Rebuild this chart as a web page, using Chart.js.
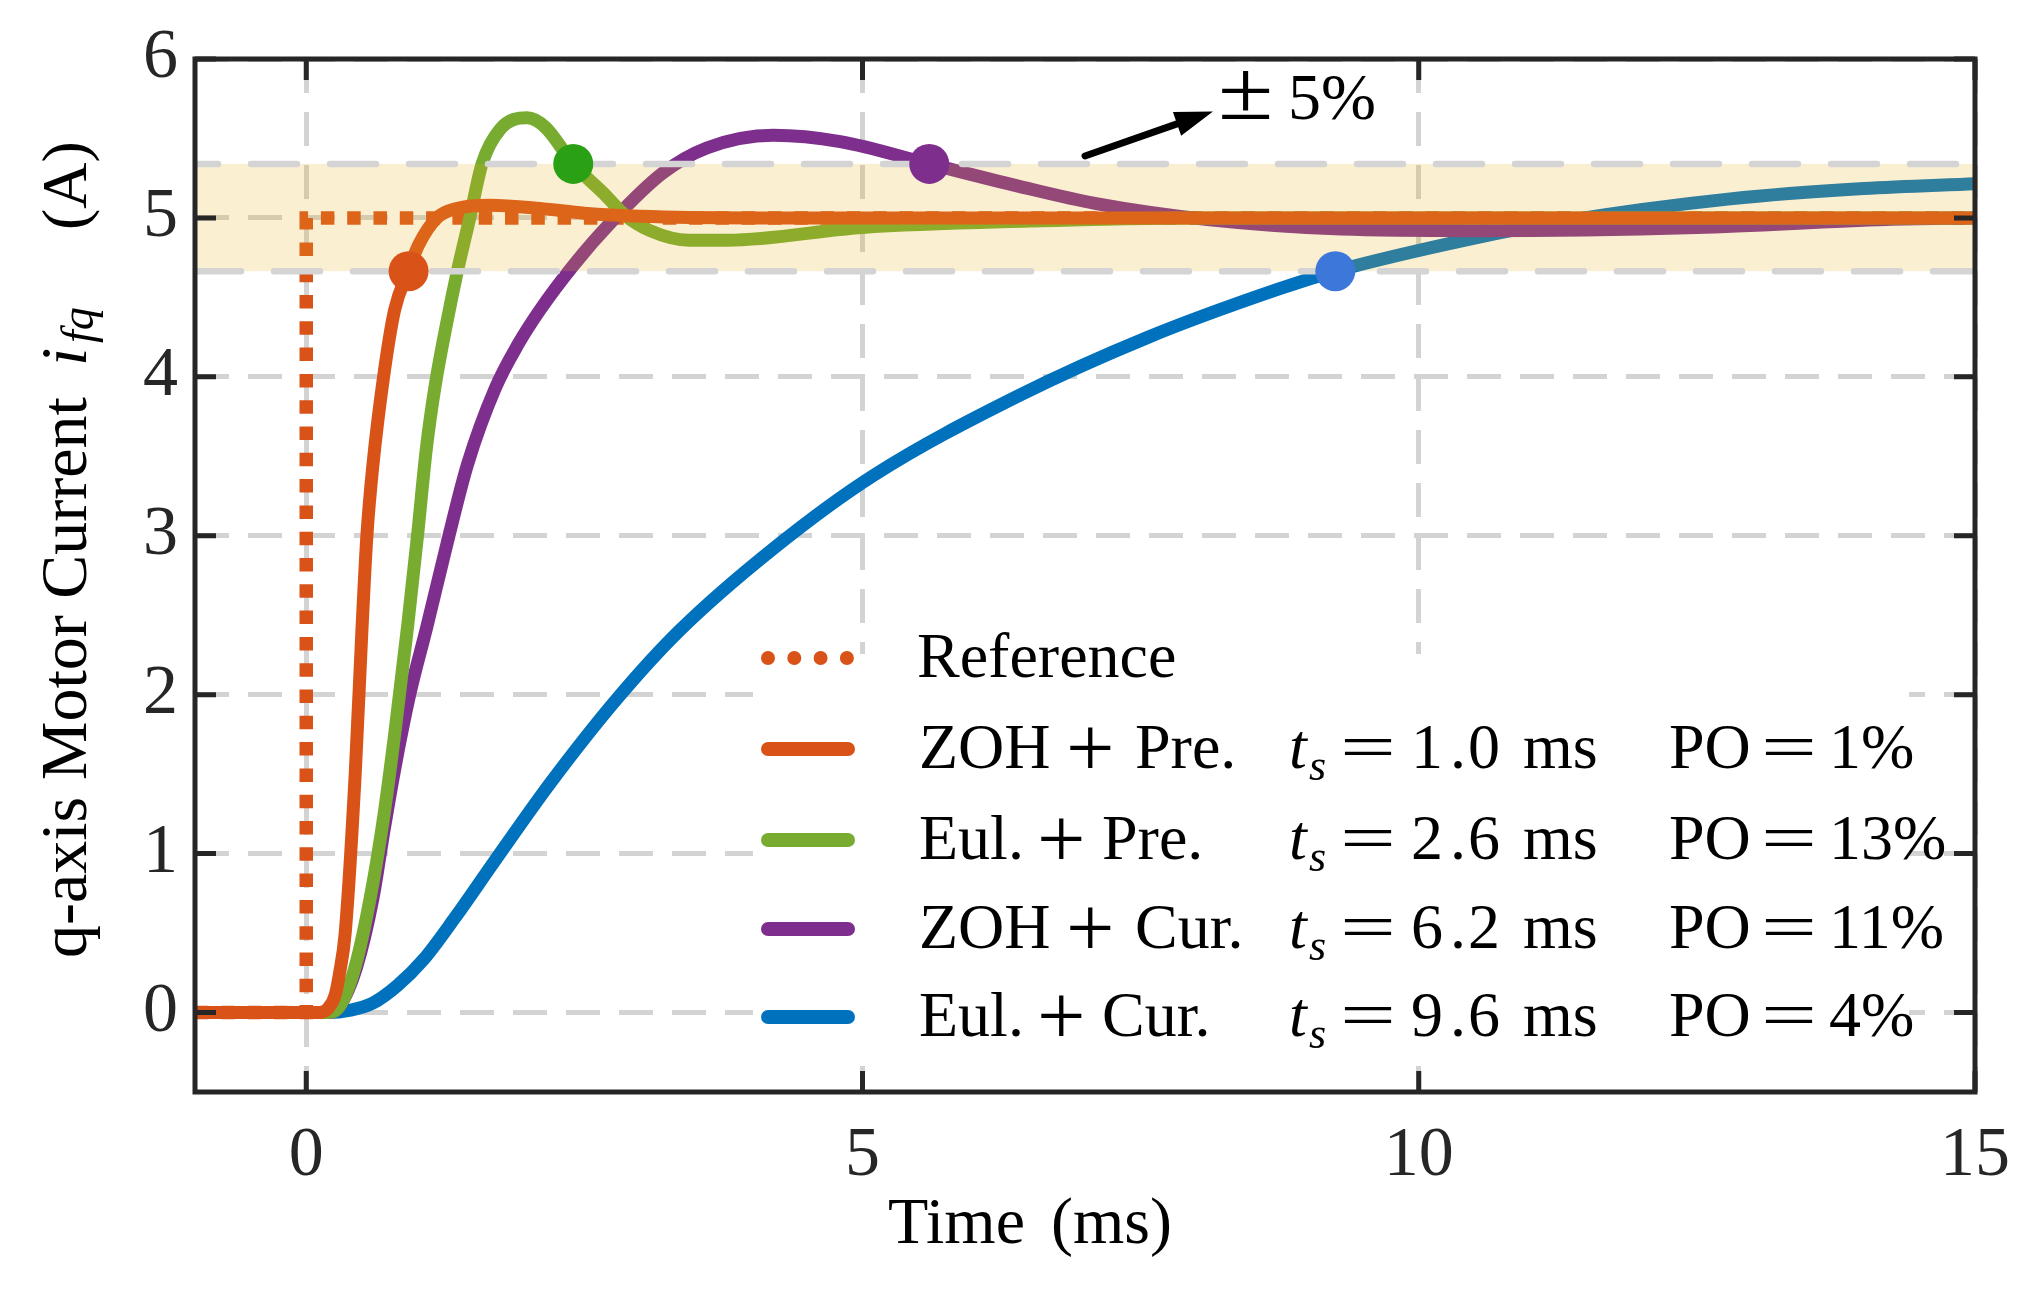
<!DOCTYPE html>
<html>
<head>
<meta charset="utf-8">
<title>q-axis motor current step response</title>
<script src="https://cdn.jsdelivr.net/npm/chart.js@4.4.1/dist/chart.umd.min.js"></script>
<style>
    html, body { margin: 0; padding: 0; background: #fff; }
    #wrap { width: 2036px; height: 1289px; position: relative; }
</style>
</head>
<body>
<div id="wrap"><canvas id="currentChart"></canvas></div>
<script>
// tick labels
const xTicks = [0, 5, 10, 15];
const yTicks = [0, 1, 2, 3, 4, 5, 6];

// reference step
const refT = [-1, 0, 0, 15];
const refI = [0, 0, 5, 5];

// ZOH + Pre.
const zohPreT = [-1, 0.12, 0.2, 0.26, 0.3, 0.35, 0.44, 0.5, 0.545, 0.6, 0.695, 0.794, 0.92, 1.01, 1.175, 1.355, 1.65, 2.1, 2.5, 3.0, 4.0, 15];
const zohPreI = [0, 0, 0.03, 0.11, 0.25, 0.5, 1.5, 2.4, 3.0, 3.45, 4.0, 4.42, 4.67, 4.83, 5.0, 5.06, 5.08, 5.06, 5.03, 5.01, 5.0, 5.0];

// Eul. + Pre.
const eulPreT = [-1, 0.18, 0.3, 0.44, 0.58, 0.7, 0.8, 0.911, 1.0, 1.08, 1.16, 1.26, 1.36, 1.47, 1.58, 1.745, 1.985, 2.15, 2.4, 2.68, 2.86, 3.09, 3.44, 3.79, 5.0, 6.5, 8.0, 15];
const eulPreI = [0, 0, 0.04, 0.29, 0.74, 1.25, 1.78, 2.43, 3.0, 3.55, 3.95, 4.33, 4.67, 5.0, 5.34, 5.56, 5.63, 5.57, 5.34, 5.15, 5.02, 4.92, 4.86, 4.86, 4.94, 4.98, 5.0, 5.0];

// ZOH + Cur.
const zohCurT = [-1, 0.2, 0.3, 0.45, 0.6, 0.7, 0.8, 0.93, 1.085, 1.265, 1.45, 1.7, 1.9, 2.1, 2.4, 2.75, 3.2, 3.6, 4.2, 4.8, 5.6, 6.4, 7.1, 8.1, 9.3, 10.5, 12.5, 14.2, 15];
const zohCurI = [0, 0, 0.04, 0.28, 0.72, 1.15, 1.55, 2.0, 2.43, 2.95, 3.45, 3.93, 4.2, 4.42, 4.7, 4.98, 5.28, 5.44, 5.52, 5.48, 5.34, 5.2, 5.09, 4.99, 4.93, 4.92, 4.94, 4.99, 5.0];

// Eul. + Cur.
const eulCurT = [-1, 0.18, 0.4, 0.6, 0.82, 1.05, 1.34, 1.7, 2.2, 2.8, 3.35, 4.2, 5.1, 6.4, 7.57, 8.73, 9.25, 10.48, 11.3, 12.8, 14.0, 15];
const eulCurI = [0, 0, 0.015, 0.06, 0.17, 0.33, 0.6, 0.96, 1.45, 1.98, 2.4, 2.92, 3.38, 3.88, 4.25, 4.55, 4.665, 4.87, 4.98, 5.12, 5.185, 5.215];

// settling points
const markerT = [0.92, 2.40, 5.60, 9.25];
const markerI = [4.665, 5.34, 5.34, 4.665];

// settling band
const bandLow = 4.665;
const bandHigh = 5.34;

// legend entries
const legendNames = ['ZOH', 'Eul.', 'ZOH', 'Eul.'];
const legendMethods = ['Pre.', 'Pre.', 'Cur.', 'Cur.'];
const settleTimes = ['1.0', '2.6', '6.2', '9.6'];
const overshoots = ['1%', '13%', '11%', '4%'];

// arrow annotation (data units)
const arrowFrom = [7.0, 5.39];
const arrowTo = [8.15, 5.67];

const ORANGE = '#D95319';
const GREEN = '#77AC30';
const PURPLE = '#7E2F8E';
const BLUE = '#0072BD';
const markerColors = ['#D95319', '#2AA014', '#7E2F8E', '#3D77D9'];
const SERIF = "'Liberation Serif', 'Times New Roman', serif";

function toPoints(ts, vals) {
    return ts.map((t, k) => ({ x: t, y: vals[k] }));
}

function curve(label, ts, vals, color, order) {
    return {
        label: label,
        data: toPoints(ts, vals),
        borderColor: color,
        borderWidth: 13,
        pointRadius: 0,
        cubicInterpolationMode: 'monotone',
        borderCapStyle: 'round',
        borderJoinStyle: 'round',
        clip: 0,
        order: order
    };
}

function wideText(ctx, str, x, y, sx) {
    ctx.save();
    ctx.translate(x, y);
    ctx.scale(sx, 1);
    ctx.fillText(str, 0, 0);
    ctx.restore();
}

// band drawn over the curves, under the markers
const bandPlugin = {
    id: 'band',
    afterDatasetDraw(chart, args) {
        if (chart.data.datasets[args.index].label !== 'ZOH + Pre.') return;
        const { ctx, chartArea: a, scales: { y } } = chart;
        const yTop = y.getPixelForValue(bandHigh);
        const yBot = y.getPixelForValue(bandLow);
        ctx.save();
        ctx.beginPath();
        ctx.rect(a.left, a.top, a.right - a.left, a.bottom - a.top);
        ctx.clip();
        ctx.fillStyle = 'rgba(237, 177, 32, 0.2)';
        ctx.fillRect(a.left, yTop, a.right - a.left, yBot - yTop);
        ctx.strokeStyle = '#D4D4D4';
        ctx.lineWidth = 6.5;
        ctx.lineCap = 'round';
        ctx.setLineDash([46, 33]);
        [[yTop, 23], [yBot, 0]].forEach(([py, off]) => {
            ctx.lineDashOffset = off;
            ctx.beginPath();
            ctx.moveTo(a.left, py);
            ctx.lineTo(a.right, py);
            ctx.stroke();
        });
        ctx.restore();
    }
};

// frame, inner ticks, legend, titles, arrow
const decorPlugin = {
    id: 'decor',
    afterDraw(chart) {
        const { ctx, chartArea: a, scales: { x, y } } = chart;
        ctx.save();

        // legend background hides the grid
        ctx.fillStyle = '#fff';
        ctx.fillRect(753, 654, 1156, 411);

        // frame
        ctx.strokeStyle = '#262626';
        ctx.lineWidth = 5;
        ctx.strokeRect(a.left, a.top, a.right - a.left, a.bottom - a.top);

        // inward ticks on all sides
        const tl = 21;
        ctx.beginPath();
        xTicks.forEach(v => {
            const px = x.getPixelForValue(v);
            ctx.moveTo(px, a.bottom); ctx.lineTo(px, a.bottom - tl);
            ctx.moveTo(px, a.top); ctx.lineTo(px, a.top + tl);
        });
        yTicks.forEach(v => {
            const py = y.getPixelForValue(v);
            ctx.moveTo(a.left, py); ctx.lineTo(a.left + tl, py);
            ctx.moveTo(a.right, py); ctx.lineTo(a.right - tl, py);
        });
        ctx.stroke();

        // legend samples
        const rowY = [658, 749, 840, 929, 1017];
        const lineColors = [ORANGE, ORANGE, GREEN, PURPLE, BLUE];
        ctx.lineCap = 'round';
        ctx.lineWidth = 14;
        rowY.forEach((ry, r) => {
            ctx.strokeStyle = lineColors[r];
            ctx.setLineDash(r === 0 ? [0, 26.3] : []);
            ctx.beginPath();
            ctx.moveTo(768, ry);
            ctx.lineTo(848, ry);
            ctx.stroke();
        });
        ctx.setLineDash([]);

        // legend text
        ctx.fillStyle = '#000';
        ctx.textBaseline = 'alphabetic';
        ctx.textAlign = 'left';
        ctx.font = '64px ' + SERIF;
        ctx.fillText('Reference', 917, rowY[0] + 19);
        for (let i = 0; i < 4; i++) {
            const ry = rowY[i + 1];
            const base = ry + 19;
            const isZoh = legendNames[i] === 'ZOH';
            ctx.font = '64px ' + SERIF;
            ctx.fillText(legendNames[i], 919, base);
            ctx.font = '86px ' + SERIF;
            ctx.fillText('+', isZoh ? 1066 : 1037, ry + 28);
            ctx.font = '64px ' + SERIF;
            ctx.fillText(legendMethods[i], isZoh ? 1135 : 1102, base);
            ctx.font = 'italic 64px ' + SERIF;
            ctx.fillText('t', 1289, base);
            ctx.font = 'italic 44px ' + SERIF;
            ctx.fillText('s', 1309, base + 12);
            ctx.font = '64px ' + SERIF;
            wideText(ctx, '=', 1340, base, 1.55);
            const st = settleTimes[i];
            ctx.fillText(st[0], 1411, base);
            ctx.fillText('.', 1450, base);
            ctx.fillText(st[2], 1468, base);
            ctx.fillText('ms', 1523, base);
            ctx.fillText('PO', 1669, base);
            wideText(ctx, '=', 1761, base, 1.55);
            ctx.fillText(overshoots[i], 1829, base);
        }

        // x-axis title
        ctx.font = '66px ' + SERIF;
        ctx.fillText('Time', 888, 1243);
        ctx.fillText('(ms)', 1051, 1243);

        // y-axis title, rotated
        const vText = (str, font, bx, by) => {
            ctx.save();
            ctx.translate(bx, by);
            ctx.rotate(-Math.PI / 2);
            ctx.font = font;
            ctx.fillText(str, 0, 0);
            ctx.restore();
        };
        vText('q-axis Motor Current', '66px ' + SERIF, 86, 958);
        vText('i', 'italic 66px ' + SERIF, 86, 366);
        vText('fq', 'italic 46px ' + SERIF, 93, 343);
        vText('(A)', '64px ' + SERIF, 86, 230);

        // arrow to the band
        const x0 = x.getPixelForValue(arrowFrom[0]), y0 = y.getPixelForValue(arrowFrom[1]);
        const x1 = x.getPixelForValue(arrowTo[0]), y1 = y.getPixelForValue(arrowTo[1]);
        const ang = Math.atan2(y1 - y0, x1 - x0);
        const headLen = 38, headHalf = 12.5;
        const bxh = x1 - headLen * Math.cos(ang), byh = y1 - headLen * Math.sin(ang);
        ctx.strokeStyle = '#000';
        ctx.lineWidth = 7;
        ctx.lineCap = 'round';
        ctx.beginPath();
        ctx.moveTo(x0, y0);
        ctx.lineTo(bxh, byh);
        ctx.stroke();
        ctx.beginPath();
        ctx.moveTo(x1, y1);
        ctx.lineTo(bxh + headHalf * Math.sin(ang), byh - headHalf * Math.cos(ang));
        ctx.lineTo(bxh - headHalf * Math.sin(ang), byh + headHalf * Math.cos(ang));
        ctx.closePath();
        ctx.fill();

        // band label
        ctx.font = '84px ' + SERIF;
        wideText(ctx, '\u00B1', 1218, 119, 1.2);
        ctx.font = '66px ' + SERIF;
        ctx.fillText('5%', 1288, 119);

        ctx.restore();
    }
};

const gridColor = '#D3D3D3';
const tickFont = { family: SERIF, size: 70 };

new Chart(document.getElementById('currentChart'), {
    type: 'line',
    data: {
        datasets: [
            {
                label: 'Reference',
                data: toPoints(refT, refI),
                borderColor: ORANGE,
                borderWidth: 13.5,
                borderDash: [13.5, 12.8],
                borderCapStyle: 'butt',
                pointRadius: 0,
                tension: 0,
                clip: 0,
                order: 5
            },
            curve('Eul. + Cur.', eulCurT, eulCurI, BLUE, 4),
            curve('ZOH + Cur.', zohCurT, zohCurI, PURPLE, 3),
            curve('Eul. + Pre.', eulPreT, eulPreI, GREEN, 2),
            curve('ZOH + Pre.', zohPreT, zohPreI, ORANGE, 1),
            {
                label: 'settling',
                data: toPoints(markerT, markerI),
                showLine: false,
                pointRadius: 20,
                pointBorderWidth: 0,
                pointBackgroundColor: markerColors,
                order: 0
            }
        ]
    },
    options: {
        responsive: true,
        maintainAspectRatio: false,
        animation: false,
        events: [],
        layout: { padding: { top: 45, right: 61, left: 0, bottom: 0 } },
        plugins: {
            legend: { display: false },
            tooltip: { enabled: false }
        },
        scales: {
            x: {
                type: 'linear',
                min: -1,
                max: 15,
                afterBuildTicks: s => { s.ticks = xTicks.map(v => ({ value: v })); },
                afterFit: s => { s.height = 197; },
                grid: { color: gridColor, lineWidth: 5, drawTicks: false },
                border: { display: false, dash: [34, 19] },
                ticks: { padding: 23, color: '#262626', font: tickFont, maxRotation: 0, autoSkip: false }
            },
            y: {
                type: 'linear',
                min: -0.5,
                max: 6,
                afterBuildTicks: s => { s.ticks = yTicks.map(v => ({ value: v })); },
                afterFit: s => { s.width = 195; },
                grid: { color: gridColor, lineWidth: 5, drawTicks: false },
                border: { display: false, dash: [34, 19] },
                ticks: { padding: 17, color: '#262626', font: tickFont, autoSkip: false }
            }
        }
    },
    plugins: [bandPlugin, decorPlugin]
});
</script>
</body>
</html>
